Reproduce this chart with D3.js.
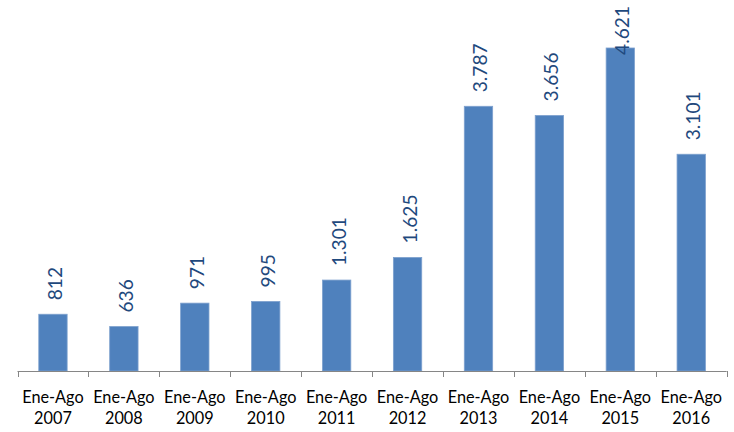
<!DOCTYPE html>
<html>
<head>
<meta charset="utf-8">
<script src="https://cdn.jsdelivr.net/npm/d3@7"></script>
<style>
  body { margin: 0; background: #fff; }
  svg { display: block; }
</style>
</head>
<body>
<svg id="chart" width="734" height="432"></svg>
<script>
const periods = ["Ene-Ago", "Ene-Ago", "Ene-Ago", "Ene-Ago", "Ene-Ago", "Ene-Ago", "Ene-Ago", "Ene-Ago", "Ene-Ago", "Ene-Ago"];
const years = ["2007", "2008", "2009", "2010", "2011", "2012", "2013", "2014", "2015", "2016"];
const values = [812, 636, 971, 995, 1301, 1625, 3787, 3656, 4621, 3101];
const valueLabels = ["812", "636", "971", "995", "1.301", "1.625", "3.787", "3.656", "4.621", "3.101"];

const svg = d3.select("#chart");
const font = "Lato, 'Open Sans', sans-serif";

const x = d3.scaleBand().domain(years).range([17.5, 726.7]).paddingInner(0.6).paddingOuter(0.3);
const y = d3.scaleLinear().domain([0, 5000]).range([371, 21.5]);

// font size helper: fit sample text to target width
function fitSize(sample, target, base) {
  const t = svg.append("text").attr("font-family", font).attr("font-size", base).text(sample);
  const w = t.node().getComputedTextLength();
  t.remove();
  return base * target / w;
}
const catSize = fitSize("Ene-Ago", 61.5, 16);
const valSize = fitSize("3.656", 49, 19);

// bars
svg.append("g").selectAll("rect").data(values).join("rect")
  .attr("x", (d, i) => x(years[i]))
  .attr("y", d => y(d))
  .attr("width", x.bandwidth())
  .attr("height", d => y(0) - y(d))
  .attr("fill", "#4F81BD")
  .attr("stroke", "#7EA1CE")
  .attr("stroke-width", 0.8);

// axis
const step = x.step();
const axis = svg.append("g");
axis.append("line")
  .attr("x1", 17.5).attr("x2", 726.7).attr("y1", 371.5).attr("y2", 371.5)
  .attr("stroke", "#868686").attr("stroke-width", 1);
const edges = d3.range(years.length + 1).map(i => 17.5 + i * step);
axis.selectAll("line.tick").data(edges).join("line")
  .attr("class", "tick")
  .attr("x1", d => Math.round(d) + 0.5).attr("x2", d => Math.round(d) + 0.5)
  .attr("y1", 371).attr("y2", 377)
  .attr("stroke", "#868686").attr("stroke-width", 1);

// category labels
const cat = svg.append("g").attr("font-family", font).attr("font-size", catSize).attr("fill", "#000").attr("text-anchor", "middle");
years.forEach((yr, i) => {
  const cx = x(yr) + x.bandwidth() / 2;
  cat.append("text").attr("x", cx).attr("y", 402.5).text(periods[i]);
  cat.append("text").attr("x", cx).attr("y", 424).text(yr);
});

// value labels (kept inside the chart area at the top)
const vl = svg.append("g").selectAll("text").data(values).join("text")
  .attr("font-family", font)
  .attr("font-size", valSize)
  .attr("fill", "#1F497D")
  .attr("text-anchor", "start")
  .text((d, i) => valueLabels[i]);
vl.attr("transform", function (d, i) {
  const len = this.getComputedTextLength();
  const start = Math.max(y(d) - 14, 6 + len);
  return `translate(${x(years[i]) + x.bandwidth() / 2 + 9},${start}) rotate(-90)`;
});
</script>
</body>
</html>
